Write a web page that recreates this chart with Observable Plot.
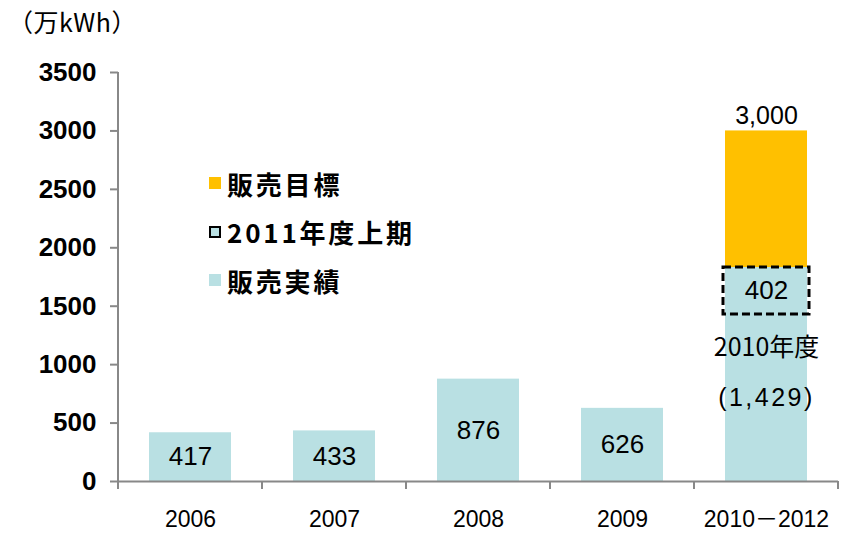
<!DOCTYPE html>
<html>
<head>
<meta charset="utf-8">
<script src="https://cdn.jsdelivr.net/npm/d3@7"></script>
<script src="https://cdn.jsdelivr.net/npm/@observablehq/plot@0.6"></script>
<style>
  html, body { margin: 0; padding: 0; background: #fff; }
  #wrap { position: relative; width: 843px; height: 534px; font-family: "Liberation Sans", Arial, sans-serif; }
  #unit { position: absolute; left: 8px; top: 5px; font-family: "Noto Sans CJK JP", sans-serif; font-size: 25px; line-height: 32px; color: #000; letter-spacing: 0.5px; }
  #legend { position: absolute; left: 209px; top: 159px; font-family: "Noto Sans CJK JP", sans-serif; font-weight: bold; font-size: 26px; letter-spacing: 2.8px; color: #000; }
  .item { height: 48.5px; display: flex; align-items: center; }
  .sw { width: 12px; height: 12px; margin-right: 6px; box-sizing: border-box; }
</style>
</head>
<body>
<div id="wrap">
  <div id="unit">（万kWh）</div>
  <div id="legend"></div>
</div>
<script>
const categories = ["2006", "2007", "2008", "2009", "2010－2012"];
const actual = [417, 433, 876, 626, 1429];
const firstHalf2011 = 402;
const target = 3000;
const yTicks = [0, 500, 1000, 1500, 2000, 2500, 3000, 3500];
const seriesNames = ["販売実績", "2011年度上期", "販売目標"];
const seriesColors = ["#b9e0e3", "#b9e0e3", "#ffc000"];
const legendOrder = ["販売目標", "2011年度上期", "販売実績"];

const last = categories[categories.length - 1];
const lastActual = actual[actual.length - 1];

const rows = categories.map((c, i) => ({cat: c, series: seriesNames[0], value: actual[i]}));
rows.push({cat: last, series: seriesNames[1], value: firstHalf2011});
rows.push({cat: last, series: seriesNames[2], value: target - lastActual - firstHalf2011});

const mainLabels = categories.slice(0, 4).map((c, i) => ({cat: c, v: actual[i]}));
const box = [{cat: last, y1: lastActual, y2: lastActual + firstHalf2011}];

const valueFont = "Liberation Sans, Arial, sans-serif";

const plot = Plot.plot({
  width: 843,
  height: 534,
  marginLeft: 118,
  marginRight: 5,
  marginTop: 72,
  marginBottom: 53,
  style: {fontFamily: valueFont, background: "transparent", overflow: "visible"},
  x: {domain: categories, paddingInner: 0.43, paddingOuter: 0.215, label: null},
  y: {domain: [0, 3500], label: null},
  color: {domain: seriesNames, range: seriesColors},
  marks: [
    Plot.barY(rows, Plot.stackY({x: "cat", y: "value", fill: "series"})),
    Plot.barY(box, {x: "cat", y1: "y1", y2: "y2", fill: "none", stroke: "#000", strokeWidth: 3, strokeDasharray: "8,4", insetLeft: -2, insetRight: -2}),
    Plot.ruleY([0], {stroke: "#888", strokeWidth: 2}),
    Plot.axisY({ticks: yTicks, tickSize: 8, tickPadding: 14, tickFormat: d => String(d), fontSize: 26, fontWeight: "bold", fill: "#000", stroke: "#888", strokeWidth: 2}),
    Plot.axisX({tickSize: 0, tickPadding: 29, fontSize: 23, fill: "#000", fontFamily: "Liberation Sans, 'Noto Sans CJK JP', sans-serif"}),
    Plot.text(mainLabels, {x: "cat", y: d => d.v / 2, text: d => String(d.v), fontSize: 26, fill: "#000"}),
    Plot.text([{cat: last}], {x: "cat", y: lastActual + firstHalf2011 / 2, text: () => String(firstHalf2011), fontSize: 26, fill: "#000"}),
    Plot.text([{cat: last}], {x: "cat", y: lastActual, dy: 33, text: () => "2010年度", fontSize: 25, fill: "#000", fontFamily: "Noto Sans CJK JP"}),
    Plot.text([{cat: last}], {x: "cat", y: lastActual, dy: 83, text: () => "(1,429)", fontSize: 25, fill: "#000"}),
    Plot.text([{cat: last}], {x: "cat", y: target, dy: -15, text: () => d3.format(",")(target), fontSize: 25, fill: "#000"})
  ]
});

document.getElementById("wrap").insertBefore(plot, document.getElementById("unit"));

// axis lines & category boundary ticks using the plot's own scales
const xs = plot.scale("x");
const ys = plot.scale("y");
const svg = d3.select(plot);
const y0 = ys.apply(0), yTop = ys.apply(3500);
const gap = (xs.step - xs.bandwidth) / 2;
const x0 = xs.apply(categories[0]) - gap;
const g = svg.append("g").attr("stroke", "#888").attr("stroke-width", 2);
g.append("line").attr("x1", x0).attr("x2", x0).attr("y1", yTop).attr("y2", y0 + 8);
categories.forEach(c => {
  const xb = xs.apply(c) + xs.bandwidth + gap;
  g.append("line").attr("x1", xb).attr("x2", xb).attr("y1", y0).attr("y2", y0 + 8);
});
svg.selectAll("text").filter(function() { return this.textContent === "(1,429)"; })
  .style("letter-spacing", "2.5px");

// legend
const leg = document.getElementById("legend");
legendOrder.forEach(name => {
  const item = document.createElement("div");
  item.className = "item";
  const sw = document.createElement("div");
  sw.className = "sw";
  sw.style.background = seriesColors[seriesNames.indexOf(name)];
  if (name === seriesNames[1]) { sw.style.border = "2px dashed #000"; }
  const t = document.createElement("span");
  t.textContent = name;
  item.appendChild(sw);
  item.appendChild(t);
  leg.appendChild(item);
});
</script>
</body>
</html>
